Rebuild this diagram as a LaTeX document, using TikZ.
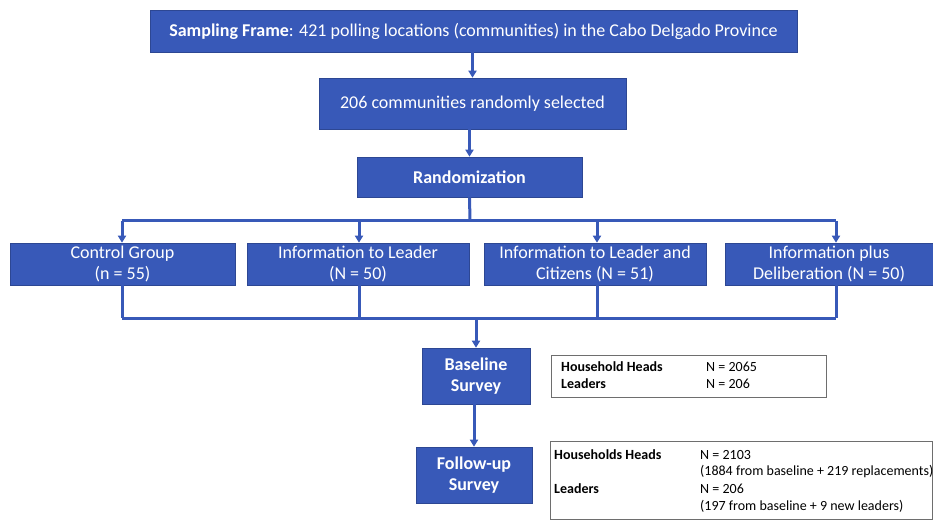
\documentclass[tikz,border=0pt]{standalone}
\usepackage{fontspec}
\setmainfont{Carlito}
\usetikzlibrary{arrows.meta}
\definecolor{boxblue}{RGB}{56,89,184}
\definecolor{edgegray}{RGB}{110,110,110}
\begin{document}
\begin{tikzpicture}[x=1pt,y=-1pt,
  bluebox/.style={draw=boxblue!80!black,line width=0.6pt,fill=boxblue,text=white,align=center,inner sep=1pt,font=\fontsize{18}{21}\selectfont},
  infobox/.style={draw=edgegray,line width=1pt,fill=white},
  conn/.style={draw=boxblue,line width=3pt},
  arr/.style={conn,-{Triangle[length=7pt,width=8pt]}},
  itxt/.style={anchor=west,inner sep=0pt,font=\fontsize{14}{16}\selectfont}]
\useasboundingbox (0,0) rectangle (933,521);
% top chain
\node[bluebox,minimum width=647,minimum height=42] (sf) at (473.5,31) {\textbf{Sampling Frame}: 421 polling locations (communities) in the Cabo Delgado Province};
\node[bluebox,minimum width=307,minimum height=51] (sel) at (472.5,103.5) {206 communities randomly selected};
\node[bluebox,minimum width=225,minimum height=40] (rnd) at (469.5,177) {\textbf{Randomization}};
% groups
\node[bluebox,minimum width=225,minimum height=42] (g1) at (122.5,264) {Control Group\\(n = 55)};
\node[bluebox,minimum width=222,minimum height=42] (g2) at (358,264) {Information to Leader\\(N = 50)};
\node[bluebox,minimum width=222,minimum height=42] (g3) at (595,264) {Information to Leader and\\Citizens (N = 51)};
\node[bluebox,minimum width=208,minimum height=42] (g4) at (829,264) {Information plus\\Deliberation (N = 50)};
% surveys
\node[bluebox,minimum width=108,minimum height=56,font=\bfseries\fontsize{18}{21}\selectfont] (base) at (476,376) {Baseline\\Survey};
\node[bluebox,minimum width=116,minimum height=56,font=\bfseries\fontsize{18}{21}\selectfont] (fol) at (474,475) {Follow-up\\Survey};
% info boxes
\node[infobox,minimum width=275,minimum height=42] (i1) at (688.5,376) {};
\node[infobox,minimum width=382,minimum height=78] (i2) at (741,480) {};
\node[itxt] (t11) at (561,367) {\textbf{Household Heads}};
\node[itxt] (t12) at (706,367) {N = 2065};
\node[itxt] (t13) at (561,384) {\textbf{Leaders}};
\node[itxt] (t14) at (706,384) {N = 206};
\node[itxt] (t21) at (554,455) {\textbf{Households Heads}};
\node[itxt] (t22) at (700,455) {N = 2103};
\node[itxt] (t23) at (700,472) {(1884 from baseline + 219 replacements)};
\node[itxt] (t24) at (554,489) {\textbf{Leaders}};
\node[itxt] (t25) at (700,489) {N = 206};
\node[itxt] (t26) at (700,506) {(197 from baseline + 9 new leaders)};
% coordinates
\coordinate (split) at (470,221);
\coordinate (b1) at (122,221);
\coordinate (b2) at (359,221);
\coordinate (b3) at (597,221);
\coordinate (b4) at (836,221);
\coordinate (m1) at (122,318);
\coordinate (m2) at (359,318);
\coordinate (m3) at (597,318);
\coordinate (m4) at (836,318);
\coordinate (mc) at (476,318);
% connectors
\draw[arr] (sf.south -| sel.north) -- (sel.north);
\draw[arr] (sel.south -| rnd.north) -- (rnd.north);
\draw[conn] (rnd.south) -- (split);
\draw[conn] (b1) -- (b4);
\draw[arr] (b1) -- (b1 |- g1.north);
\draw[arr] (b2) -- (b2 |- g2.north);
\draw[arr] (b3) -- (b3 |- g3.north);
\draw[arr] (b4) -- (b4 |- g4.north);
\draw[conn] (m1 |- g1.south) -- (m1);
\draw[conn] (m2 |- g2.south) -- (m2);
\draw[conn] (m3 |- g3.south) -- (m3);
\draw[conn] (m4 |- g4.south) -- (m4);
\draw[conn] (m1) -- (m4);
\draw[arr] (mc) -- (base.north);
\draw[arr] (base.south -| fol.north) -- (fol.north);
\end{tikzpicture}
\end{document}
